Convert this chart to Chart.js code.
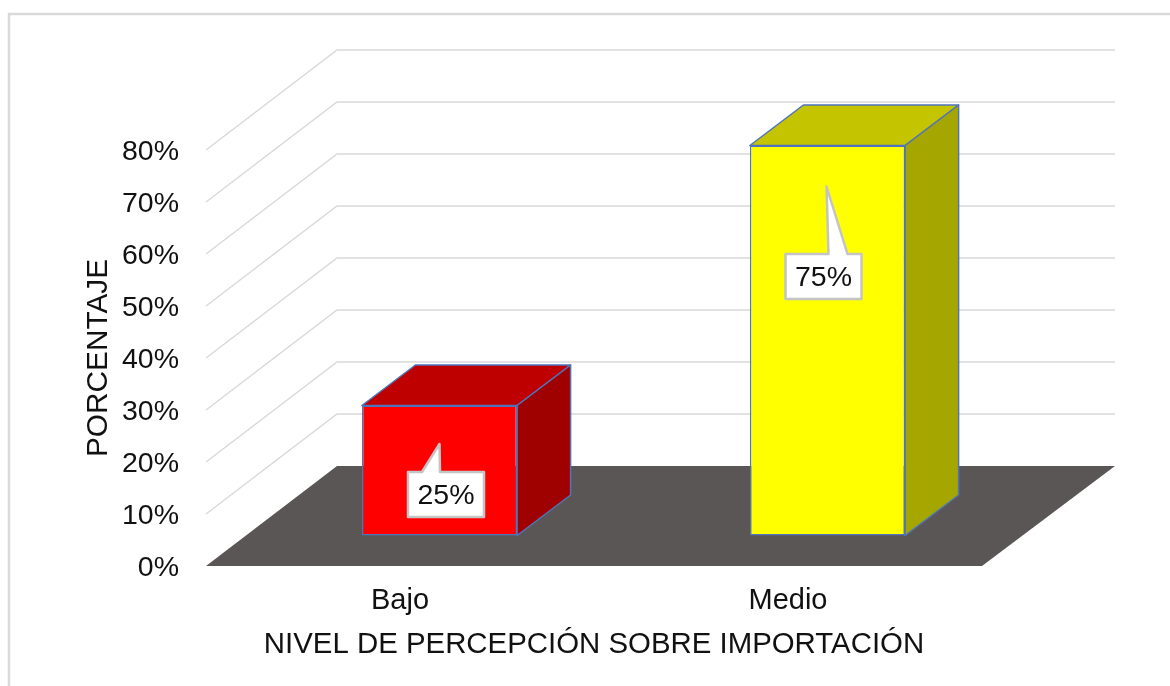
<!DOCTYPE html>
<html lang="es">
<head>
    <meta charset="UTF-8">
    <title>Nivel de percepción sobre importación</title>
    <script src="https://cdn.jsdelivr.net/npm/chart.js"></script>
    <style>
        html, body { margin: 0; padding: 0; background: #fff; overflow: hidden; }
        canvas { display: block; }
    </style>
</head>
<body>
    <canvas id="chartCanvas" width="1170" height="686"></canvas>

    <script>
        const categories = ["Bajo", "Medio"];
        const percentages = [25, 75];
        const tickLabels = ["0%", "10%", "20%", "30%", "40%", "50%", "60%", "70%", "80%"];

        const frontColors = ["#ff0000", "#ffff00"];
        const topColors = ["#bf0000", "#c4c400"];
        const sideColors = ["#9f0000", "#a6a600"];
        const edgeColor = "#4f74bd";
        const FONT = "'Liberation Sans', Arial, sans-serif";

        // profundidad del piso y de las barras (efecto 3D)
        const floorDepth = { x: 131, y: -100 };
        const barShift = { x: 39.5, y: -30.5 };
        const barDepth = { x: 53.5, y: -40.5 };
        // caja y flecha de cada etiqueta, relativas al centro superior de la barra
        const callouts = [
            { dx: 6.5, dy: 66.5, tipX: 0, tipY: 38.5, baseA: -24, baseB: -6 },
            { dx: -4, dy: 108.5, tipX: -1, tipY: 41, baseA: 5, baseB: 24 }
        ];

        function poly(ctx, pts) {
            ctx.beginPath();
            pts.forEach((p, i) => i ? ctx.lineTo(p[0], p[1]) : ctx.moveTo(p[0], p[1]));
            ctx.closePath();
        }

        const scene3d = {
            id: 'scene3d',
            beforeDraw(chart) {
                const ctx = chart.ctx;
                ctx.save();
                ctx.strokeStyle = '#d9d9d9';
                ctx.lineWidth = 2.5;
                ctx.beginPath();
                ctx.moveTo(9, 686);
                ctx.lineTo(9, 14);
                ctx.lineTo(1170, 14);
                ctx.stroke();
                ctx.restore();
            },
            beforeDatasetsDraw(chart) {
                const ctx = chart.ctx;
                const a = chart.chartArea;
                const yScale = chart.scales.y;
                ctx.save();
                ctx.strokeStyle = '#d9d9d9';
                ctx.lineWidth = 1.5;
                yScale.ticks.forEach(t => {
                    const y = yScale.getPixelForValue(t.value);
                    if (t.value === 0) return;
                    ctx.beginPath();
                    ctx.moveTo(a.left, y);
                    ctx.lineTo(a.left + floorDepth.x, y + floorDepth.y);
                    ctx.lineTo(a.right + floorDepth.x + 2, y + floorDepth.y);
                    ctx.stroke();
                });
                // piso
                ctx.fillStyle = '#5a5655';
                poly(ctx, [
                    [a.left, a.bottom],
                    [a.right, a.bottom],
                    [a.right + floorDepth.x + 2, a.bottom + floorDepth.y],
                    [a.left + floorDepth.x, a.bottom + floorDepth.y]
                ]);
                ctx.fill();
                ctx.restore();
            },
            beforeDatasetDraw(chart) {
                const ctx = chart.ctx;
                const meta = chart.getDatasetMeta(0);
                ctx.save();
                ctx.strokeStyle = edgeColor;
                ctx.lineWidth = 1.5;
                ctx.lineJoin = 'round';
                meta.data.forEach((bar, i) => {
                    const half = bar.width / 2;
                    const l = bar.x - half + barShift.x;
                    const r = bar.x + half + barShift.x;
                    const t = bar.y + barShift.y;
                    const b = bar.base + barShift.y;
                    ctx.fillStyle = topColors[i];
                    poly(ctx, [[l, t], [r, t], [r + barDepth.x, t + barDepth.y], [l + barDepth.x, t + barDepth.y]]);
                    ctx.fill();
                    ctx.stroke();
                    ctx.fillStyle = sideColors[i];
                    poly(ctx, [[r, t], [r + barDepth.x, t + barDepth.y], [r + barDepth.x, b + barDepth.y], [r, b]]);
                    ctx.fill();
                    ctx.stroke();
                });
                ctx.restore();
                // el frente lo dibuja Chart.js, desplazado sobre el piso
                ctx.save();
                ctx.translate(barShift.x, barShift.y);
            },
            afterDatasetDraw(chart) {
                chart.ctx.restore();
            },
            afterDatasetsDraw(chart) {
                const ctx = chart.ctx;
                const meta = chart.getDatasetMeta(0);
                ctx.save();
                meta.data.forEach((bar, i) => {
                    const c = callouts[i];
                    const cx = bar.x + barShift.x + c.dx;
                    const top = bar.y + barShift.y + c.dy;
                    const w = 76, h = 45;
                    const l = cx - w / 2, r = cx + w / 2;
                    const pts = [
                        [l, top],
                        [cx + c.baseA, top],
                        [bar.x + barShift.x + c.tipX, bar.y + barShift.y + c.tipY],
                        [cx + c.baseB, top],
                        [r, top],
                        [r, top + h],
                        [l, top + h]
                    ];
                    ctx.fillStyle = '#ffffff';
                    ctx.strokeStyle = '#c4c4c4';
                    ctx.lineWidth = 2.5;
                    ctx.lineJoin = 'round';
                    poly(ctx, pts);
                    ctx.fill();
                    ctx.stroke();
                    ctx.fillStyle = '#111';
                    ctx.font = '28.5px ' + FONT;
                    ctx.textAlign = 'center';
                    ctx.textBaseline = 'middle';
                    ctx.fillText(percentages[i] + '%', cx, top + h / 2 + 2);
                });
                ctx.restore();
            }
        };

        new Chart(document.getElementById('chartCanvas').getContext('2d'), {
            type: 'bar',
            data: {
                labels: categories,
                datasets: [{
                    data: percentages,
                    backgroundColor: frontColors,
                    borderColor: edgeColor,
                    borderWidth: 1.5,
                    borderSkipped: false,
                    barPercentage: 0.4,
                    categoryPercentage: 1,
                    clip: false
                }]
            },
            options: {
                responsive: false,
                animation: false,
                layout: { padding: { top: 150, right: 188, left: 0, bottom: 0 } },
                plugins: { legend: { display: false }, tooltip: { enabled: false } },
                scales: {
                    x: {
                        afterFit(scale) { scale.height = 120; },
                        grid: { display: false, drawTicks: false },
                        border: { display: false },
                        ticks: { color: '#111', padding: 18, maxRotation: 0, font: { family: FONT, size: 29 } },
                        title: {
                            display: true,
                            text: 'NIVEL DE PERCEPCIÓN SOBRE IMPORTACIÓN',
                            color: '#111',
                            padding: { top: 0, bottom: 23 },
                            font: { family: FONT, size: 29.4 }
                        }
                    },
                    y: {
                        min: 0,
                        max: 80,
                        afterFit(scale) { scale.width = 206; },
                        grid: { display: false, drawTicks: false },
                        border: { display: false },
                        ticks: {
                            stepSize: 10,
                            color: '#111',
                            padding: 27,
                            labelOffset: 2.5,
                            font: { family: FONT, size: 28.5 },
                            callback: (v, i) => tickLabels[i]
                        },
                        title: {
                            display: true,
                            text: 'PORCENTAJE',
                            color: '#111',
                            padding: { top: 81, bottom: 0 },
                            font: { family: FONT, size: 29.8 }
                        }
                    }
                }
            },
            plugins: [scene3d]
        });
    </script>
</body>
</html>
